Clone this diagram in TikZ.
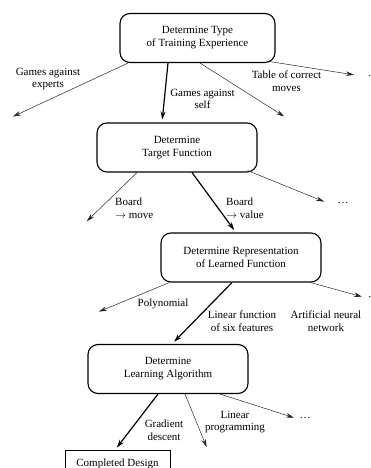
\documentclass[tikz,border=0pt]{standalone}
\usepackage{fontspec}
\setmainfont{Liberation Serif}
\usetikzlibrary{arrows.meta,positioning}
\tikzset{
  stage/.style={draw, rounded corners=10pt, line width=1.1pt, minimum width=160pt,
    minimum height=49pt, align=center, font=\fontsize{11}{13}\selectfont},
  done/.style={draw, line width=1pt, minimum width=105pt, minimum height=26pt,
    anchor=north, font=\fontsize{11}{13}\selectfont},
  choice/.style={align=center, inner sep=0pt, font=\fontsize{11}{12.5}\selectfont},
  altarrow/.style={-{Stealth[length=8pt,width=4.5pt]}, line width=0.5pt, black!85, shorten >=1pt},
  pickarrow/.style={-{Stealth[length=8pt,width=5pt]}, line width=1.2pt, shorten >=3pt},
}
\begin{document}
\begin{tikzpicture}[x=1pt,y=-1pt]
\useasboundingbox (0,0) rectangle (371,468);
\node[stage, minimum width=155pt](A)at(197.5,38){Determine Type\\of Training Experience};
\node[stage](B)at(177,147.5){Determine\\Target Function};
\node[stage](C)at(241,257.5){Determine Representation\\of Learned Function};
\node[stage](D)at(168,369){Determine\\Learning Algorithm};
\node[done](E)at(117.5,450){Completed Design};
\coordinate(a1)at(12,117);
\coordinate(a3)at(285,117);
\coordinate(a4)at(355,75);
\coordinate(b1)at(86,222);
\coordinate(b3)at(325,202);
\coordinate(c1)at(98,312);
\coordinate(c3)at(363,297);
\coordinate(d2)at(207,448);
\coordinate(d3)at(295,418);
\draw[altarrow]([xshift=-69.5]A.south)--(a1);
\draw[pickarrow]([xshift=-29.5]A.south)--([xshift=-15]B.north);
\draw[altarrow]([xshift=2.5]A.south)--(a3);
\draw[altarrow]([xshift=-9,yshift=2]A.south east)--(a4);
\draw[altarrow]([xshift=-40]B.south)--(b1);
\draw[pickarrow]([xshift=15]B.south)--([xshift=-5]C.north);
\draw[altarrow]([xshift=-10,yshift=2]B.south east)--(b3);
\draw[altarrow]([xshift=9]C.south west)--(c1);
\draw[pickarrow]([xshift=-9]C.south)--([xshift=4]D.north);
\draw[altarrow]([xshift=-11]C.south east)--(c3);
\draw[pickarrow]([xshift=-10]D.south)--([xshift=-2.5]E.north);
\draw[altarrow]([xshift=17]D.south)--(d2);
\draw[altarrow]([xshift=52]D.south)--(d3);
\node[choice](ge)at(48,79){Games against\\experts};
\node[choice](gs)at(202.5,99){Games against\\self};
\node[choice](tc)at(286.5,81){Table of correct\\moves};
\node[choice, anchor=west](m1)at(368,76){\dots};
\node[choice, anchor=west, align=left](bm)at(115,208){Board\\$\rightarrow$ move};
\node[choice, anchor=west, align=left](bv)at(226,208){Board\\$\rightarrow$ value};
\node[choice](m2)at(343,203){\dots};
\node[choice](po)at(163,304){Polynomial};
\node[choice](lf)at(242,321){Linear function\\of six features};
\node[choice](an)at(326,321){Artificial neural\\network};
\node[choice, anchor=west](m3)at(368,297){\dots};
\node[choice](gd)at(164,430){Gradient\\descent};
\node[choice](lp)at(235,422){Linear\\programming};
\node[choice](m4)at(305,418){\dots};
\end{tikzpicture}
\end{document}
